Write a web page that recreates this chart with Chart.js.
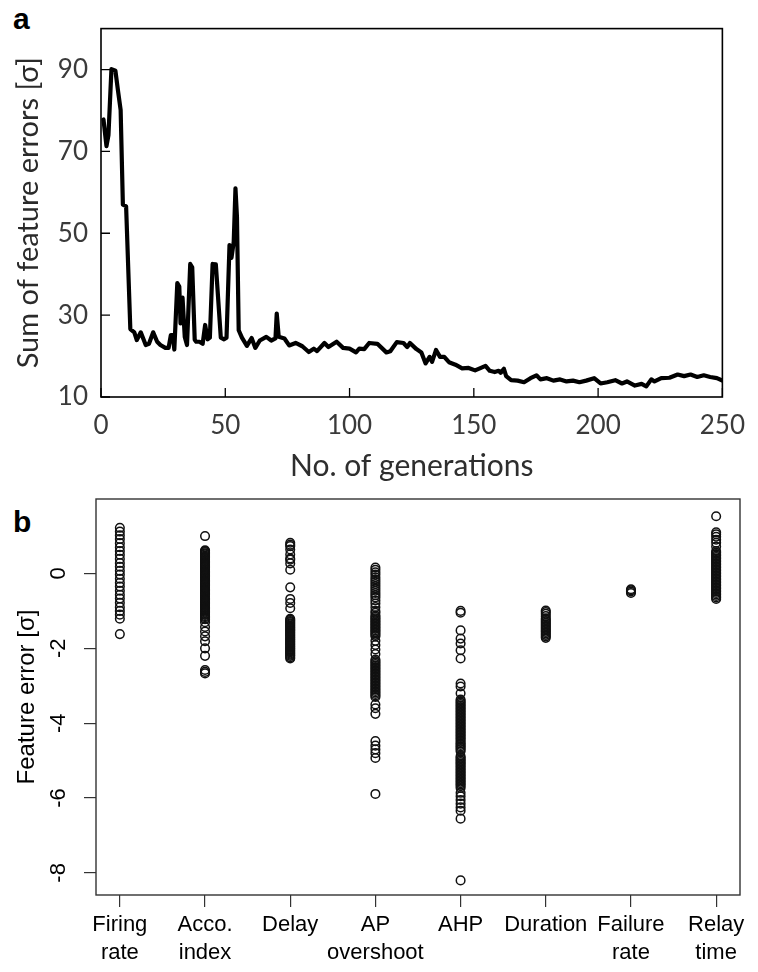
<!DOCTYPE html>
<html>
<head>
<meta charset="utf-8">
<script src="https://cdn.jsdelivr.net/npm/chart.js@4.4.1/dist/chart.umd.min.js"></script>
<style>
  html, body { margin: 0; padding: 0; background: #fff; }
  #page { position: relative; width: 758px; height: 972px; overflow: hidden; }
  canvas { position: absolute; left: 0; }
  .panel-tag { position: absolute; font: bold 30px "Liberation Sans", Arial, sans-serif; color: #000; }
</style>
</head>
<body>
<div id="page">
  <div class="panel-tag" style="left:13px; top:2px;">a</div>
  <canvas id="errors-chart" width="758" height="490" style="top:0px;"></canvas>
  <div class="panel-tag" style="left:13px; top:505px;">b</div>
  <canvas id="features-chart" width="758" height="494" style="top:478px;"></canvas>
</div>
<script>
// panel a: sum of feature errors per generation
const generations = [1, 2.2, 3, 4.2, 5.8, 6.8, 7.9, 8.8, 10.1, 11.8, 13.4, 14.4, 16, 18, 19.3, 21, 22.6, 23.9, 25.9, 27.2,
  28.1, 28.9, 29.5, 30.7, 31.5, 32, 32.8, 33.7, 34.6, 35.9, 36.7, 37.7, 38.3, 39.6, 40.9, 41.9, 42.9, 43.8, 44.9, 46.2,
  48.2, 49.5, 50.5, 51.7, 52.5, 53.4, 54.1, 54.7, 55.4, 56.7, 58.7, 60.6, 62.1, 63.9, 66.5, 68.5, 70.2, 70.7, 71.5, 73.8,
  75.7, 78.3, 81, 83.6, 85.6, 86.9, 89.9, 91.5, 94.8, 97.4, 100, 102.6, 103.9, 105.9, 107.9, 111.2, 114.8, 116.4, 119, 121.7,
  123.2, 124.3, 126.9, 128.9, 130.6, 132.2, 133.2, 134.8, 136.4, 138.1, 140, 142.6, 145.3, 147.9, 150.5, 152.4, 154.7, 156.4, 158.4, 160,
  160.8, 162.1, 163, 165, 167.6, 170.2, 172.8, 175.2, 176.8, 179.4, 182, 184.7, 187.3, 189.9, 192.5, 195.2, 198.4, 201, 203.7, 206.9,
  209.6, 211.6, 214.8, 217.5, 219.4, 221.4, 222.7, 225.4, 228.7, 232, 234.6, 237.2, 239.9, 242.5, 245.1, 247.8, 250];
const errorSums = [77.8, 71.3, 74, 90.1, 89.7, 85, 80.1, 57, 56.6, 26.6, 25.8, 23.9, 25.8, 22.7, 23, 25.8, 23.5, 22.7, 22, 22,
  25.1, 25.1, 21.6, 37.8, 37, 28, 34.3, 24.7, 22.7, 42.5, 41.7, 24, 23.5, 23.5, 23, 27.6, 24.1, 24.5, 42.5, 42.4,
  24.5, 24.1, 24.5, 47.1, 44, 47.9, 61, 54, 26.3, 24.5, 22.5, 24.4, 22, 23.8, 24.7, 23.8, 24.3, 30.4, 24.7, 24.3,
  22.6, 23.2, 22.4, 21, 21.8, 21.2, 23.2, 22.2, 23.5, 22, 21.8, 20.9, 21.8, 21.7, 23.2, 23, 20.9, 21.2, 23.4, 23.2,
  22.2, 23.2, 21.7, 20.9, 18.2, 19.8, 18.6, 21.5, 19.8, 19.8, 18.5, 17.9, 17, 17.1, 16.5, 17, 17.6, 16.4, 16.1, 16.4,
  15.9, 16.9, 15.1, 14.1, 14, 13.6, 14.6, 15.3, 14.3, 14.6, 14, 14.3, 13.8, 14, 13.6, 14, 14.6, 13.3, 13.6, 14.1,
  13.3, 13.8, 12.8, 13.2, 12.6, 14.3, 13.8, 14.6, 14.7, 15.5, 15.1, 15.5, 14.9, 15.3, 14.9, 14.6, 14];
const xTicksA = [0, 50, 100, 150, 200, 250];
const yTicksA = [10, 30, 50, 70, 90];

// panel b: feature errors of the individual features
const featureNames = [["Firing", "rate"], ["Acco.", "index"], ["Delay"], ["AP", "overshoot"],
  ["AHP"], ["Duration"], ["Failure", "rate"], ["Relay", "time"]];
const firingRate = [1.22, 1.12, 1.02, 0.92, 0.81, 0.7, 0.6, 0.5, 0.39, 0.28, 0.18, 0.07, -0.03, -0.14, -0.25, -0.35,
  -0.46, -0.57, -0.67, -0.78, -0.9, -1.0, -1.1, -1.21, -1.62];
const accoIndex = [1.0, 0.62, 0.6, 0.57, 0.54, 0.51, 0.48, 0.45, 0.42, 0.39, 0.36, 0.33, 0.3, 0.27, 0.24, 0.21, 0.18,
  0.15, 0.12, 0.09, 0.06, 0.03, 0, -0.03, -0.06, -0.09, -0.12, -0.15, -0.18, -0.21, -0.24, -0.27, -0.3, -0.33, -0.36,
  -0.39, -0.42, -0.45, -0.48, -0.51, -0.54, -0.57, -0.6, -0.63, -0.66, -0.69, -0.72, -0.75, -0.78, -0.81, -0.84, -0.87,
  -0.9, -0.93, -0.96, -0.99, -1.02, -1.05, -1.08, -1.11, -1.14, -1.17, -1.2, -1.22, -1.3, -1.43, -1.55, -1.68, -1.81,
  -2.0, -2.2, -2.58, -2.63, -2.67];
const delay = [0.82, 0.77, 0.73, 0.64, 0.51, 0.4, 0.37, 0.27, 0.1, -0.37, -0.68, -0.79, -0.93, -1.21, -1.24, -1.27,
  -1.3, -1.33, -1.36, -1.39, -1.42, -1.45, -1.48, -1.51, -1.54, -1.57, -1.6, -1.63, -1.66, -1.69, -1.72, -1.75, -1.78,
  -1.81, -1.84, -1.87, -1.9, -1.93, -1.96, -1.99, -2.02, -2.05, -2.08, -2.11, -2.14, -2.17, -2.2, -2.24, -2.27];
const apOvershoot = [0.16, 0.1, 0.03, -0.03, -0.1, -0.16, -0.22, -0.28, -0.34, -0.4, -0.46, -0.52, -0.58, -0.64,
  -0.72, -0.8, -0.9, -1.0, -1.05, -1.12, -1.16, -1.2, -1.24, -1.28, -1.32, -1.36, -1.4, -1.44, -1.48, -1.52, -1.56,
  -1.6, -1.64, -1.68, -1.8, -1.91, -2.03, -2.15, -2.3, -2.34, -2.38, -2.42, -2.46, -2.5, -2.54, -2.58, -2.62, -2.66,
  -2.7, -2.74, -2.78, -2.82, -2.86, -2.9, -2.94, -2.98, -3.02, -3.06, -3.1, -3.14, -3.18, -3.22, -3.26, -3.3, -3.5,
  -3.6, -3.75, -4.48, -4.6, -4.7, -4.8, -4.93, -5.89];
const ahp = [-1.0, -1.05, -1.52, -1.74, -1.87, -2.05, -2.27, -2.94, -3.02, -3.2, -3.37, -3.41, -3.45, -3.49, -3.53,
  -3.57, -3.61, -3.65, -3.69, -3.73, -3.77, -3.81, -3.85, -3.89, -3.93, -3.97, -4.01, -4.05, -4.09, -4.13, -4.17,
  -4.21, -4.25, -4.29, -4.33, -4.37, -4.41, -4.45, -4.5, -4.54, -4.58, -4.62, -4.66, -4.7, -4.75, -4.88, -4.92, -4.96,
  -5.0, -5.04, -5.08, -5.12, -5.16, -5.2, -5.24, -5.28, -5.32, -5.36, -5.4, -5.44, -5.48, -5.52, -5.56, -5.6, -5.64,
  -5.68, -5.73, -5.86, -5.95, -6.05, -6.15, -6.25, -6.34, -6.55, -8.2];
const duration = [-0.99, -1.03, -1.08, -1.14, -1.2, -1.24, -1.28, -1.32, -1.36, -1.4, -1.44, -1.48, -1.52, -1.56,
  -1.6, -1.64, -1.68, -1.72];
const failureRate = [-0.42, -0.45, -0.48, -0.52];
const relayTime = [1.53, 1.1, 1.05, 0.98, 0.9, 0.82, 0.72, 0.6, 0.56, 0.52, 0.48, 0.44, 0.4, 0.36, 0.32, 0.28, 0.24,
  0.2, 0.16, 0.12, 0.08, 0.04, 0, -0.04, -0.08, -0.12, -0.16, -0.2, -0.24, -0.28, -0.32, -0.36, -0.4, -0.44, -0.48,
  -0.52, -0.56, -0.6, -0.64, -0.68];
const yTicksB = [0, -2, -4, -6, -8];

const fontA = { family: "Lato, 'Open Sans', sans-serif", size: 26 };
const fontB = { family: "'Liberation Sans', Arial, sans-serif", size: 22 };

// R-like box round the plot area
const boxPlugin = {
  id: "box",
  afterDraw(chart, args, opts) {
    const { ctx, chartArea: a } = chart;
    ctx.save();
    ctx.strokeStyle = opts.color || "#000";
    ctx.lineWidth = opts.width || 1.5;
    ctx.strokeRect(a.left, a.top, a.right - a.left, a.bottom - a.top);
    ctx.restore();
  },
};

// panel a has its tick marks pointing into the plot
const innerTicks = {
  id: "innerTicks",
  afterDraw(chart) {
    const { ctx, chartArea: a, scales } = chart;
    ctx.save();
    ctx.strokeStyle = "#000";
    ctx.lineWidth = 1.3;
    ctx.beginPath();
    scales.x.ticks.forEach((t) => {
      const px = scales.x.getPixelForValue(t.value);
      ctx.moveTo(px, a.bottom);
      ctx.lineTo(px, a.bottom - 9);
    });
    scales.y.ticks.forEach((t) => {
      const py = scales.y.getPixelForValue(t.value);
      ctx.moveTo(a.left, py);
      ctx.lineTo(a.left + 9, py);
    });
    ctx.stroke();
    ctx.restore();
  },
};

// panel b has y labels turned parallel to the axis
const rotatedYLabels = {
  id: "rotatedYLabels",
  afterDraw(chart) {
    const { ctx, scales } = chart;
    ctx.save();
    ctx.fillStyle = "#000";
    ctx.font = `${fontB.size}px ${fontB.family}`;
    ctx.textAlign = "center";
    ctx.textBaseline = "middle";
    scales.y.ticks.forEach((t) => {
      const py = scales.y.getPixelForValue(t.value);
      ctx.save();
      ctx.translate(59, py);
      ctx.rotate(-Math.PI / 2);
      ctx.fillText(String(t.value), 0, 0);
      ctx.restore();
    });
    ctx.restore();
  },
};

new Chart(document.getElementById("errors-chart").getContext("2d"), {
  type: "line",
  data: {
    datasets: [
      {
        data: generations.map((g, i) => ({ x: g, y: errorSums[i] })),
        borderColor: "#000",
        borderWidth: 4.2,
        pointRadius: 0,
        tension: 0,
        borderJoinStyle: "round",
        borderCapStyle: "round",
      },
    ],
  },
  options: {
    responsive: false,
    animation: false,
    layout: { padding: { top: 7, right: 22, left: 0, bottom: 0 } },
    plugins: { legend: { display: false }, tooltip: { enabled: false }, box: { color: "#000", width: 1.6 } },
    scales: {
      x: {
        type: "linear",
        min: 0,
        max: 250,
        afterBuildTicks: (s) => { s.ticks = xTicksA.map((v) => ({ value: v })); },
        afterFit: (s) => { s.height = 93; },
        ticks: { font: fontA, color: "#3a3a3a", padding: 13, maxRotation: 0, autoSkip: false },
        grid: { display: false, drawTicks: false },
        border: { display: false },
        title: { display: true, text: "No. of generations", font: { family: fontA.family, size: 30 }, color: "#2e2e2e", padding: { top: 0, bottom: 6 } },
      },
      y: {
        min: 10,
        max: 100,
        afterBuildTicks: (s) => { s.ticks = yTicksA.map((v) => ({ value: v })); },
        afterFit: (s) => { s.width = 101; },
        ticks: { font: fontA, color: "#3a3a3a", padding: 13 },
        grid: { display: false, drawTicks: false },
        border: { display: false },
        title: { display: true, text: "Sum of feature errors [σ]", font: { family: fontA.family, size: 29 }, color: "#2a2a2a", padding: { top: 11, bottom: 0 } },
      },
    },
  },
  plugins: [boxPlugin, innerTicks],
});

const featureColumns = [firingRate, accoIndex, delay, apOvershoot, ahp, duration, failureRate, relayTime];

new Chart(document.getElementById("features-chart").getContext("2d"), {
  type: "scatter",
  data: {
    datasets: featureColumns.map((col, i) => ({
      data: col.map((v) => ({ x: i + 1, y: v })),
      pointStyle: "circle",
      pointRadius: 4.3,
      borderWidth: 1.5,
      borderColor: "#111",
      backgroundColor: "rgba(0,0,0,0)",
    })),
  },
  options: {
    responsive: false,
    animation: false,
    layout: { padding: { top: 21, right: 18, left: 0, bottom: 0 } },
    plugins: { legend: { display: false }, tooltip: { enabled: false }, box: { color: "#333", width: 1.4 } },
    scales: {
      x: {
        type: "linear",
        min: 0.72,
        max: 8.28,
        afterBuildTicks: (s) => { s.ticks = featureNames.map((n, i) => ({ value: i + 1 })); },
        afterFit: (s) => { s.height = 77; },
        ticks: {
          font: { ...fontB, lineHeight: 1.27 },
          color: "#000",
          padding: 4,
          maxRotation: 0,
          autoSkip: false,
          callback: (v) => featureNames[Math.round(v) - 1],
        },
        grid: { display: true, drawOnChartArea: false, drawTicks: true, tickLength: 12, color: "#333", lineWidth: 1.2 },
        border: { display: false },
      },
      y: {
        min: -8.59,
        max: 1.99,
        afterBuildTicks: (s) => { s.ticks = yTicksB.map((v) => ({ value: v })); },
        afterFit: (s) => { s.width = 96; },
        ticks: { display: false },
        grid: { display: true, drawOnChartArea: false, drawTicks: true, tickLength: 12, color: "#333", lineWidth: 1.2 },
        border: { display: false },
        title: { display: true, text: "Feature error [σ]", font: { family: fontB.family, size: 24 }, color: "#000", padding: { top: 13, bottom: 0 } },
      },
    },
  },
  plugins: [boxPlugin, rotatedYLabels],
});
</script>
</body>
</html>
